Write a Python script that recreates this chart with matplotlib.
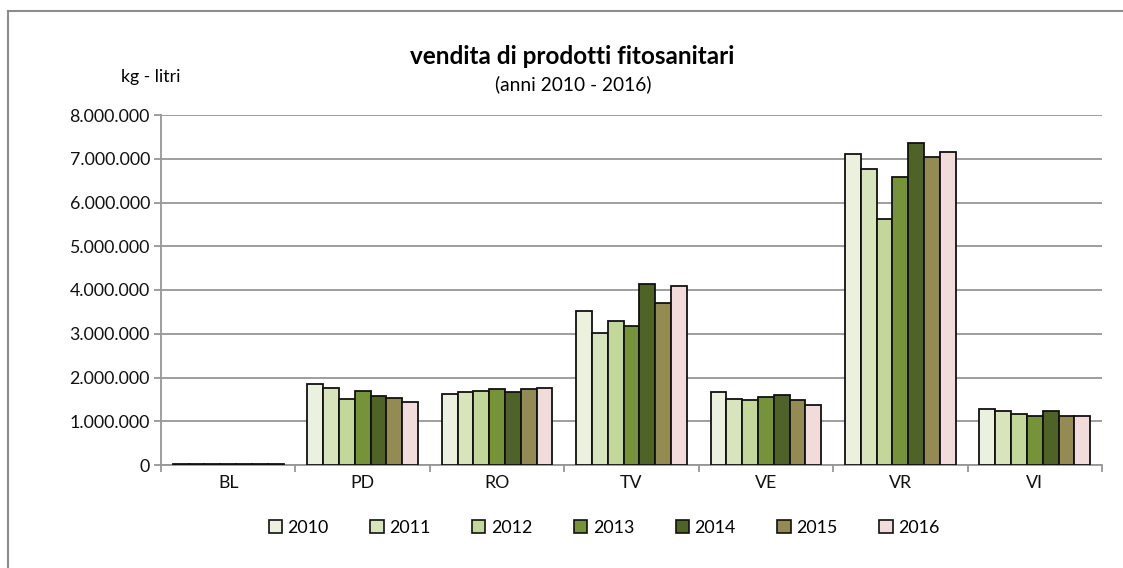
import matplotlib
matplotlib.use("Agg")
import matplotlib.pyplot as plt
import numpy as np
from matplotlib.lines import Line2D
from matplotlib.ticker import FuncFormatter, MultipleLocator

plt.rcParams['font.family'] = ['Lato', 'DejaVu Sans']

provinces = ["BL", "PD", "RO", "TV", "VE", "VR", "VI"]
years = ["2010", "2011", "2012", "2013", "2014", "2015", "2016"]
v2010 = [30000, 1850000, 1620000, 3520000, 1670000, 7120000, 1280000]
v2011 = [30000, 1770000, 1660000, 3020000, 1520000, 6770000, 1230000]
v2012 = [30000, 1500000, 1690000, 3290000, 1480000, 5620000, 1160000]
v2013 = [30000, 1690000, 1730000, 3170000, 1560000, 6580000, 1120000]
v2014 = [30000, 1580000, 1660000, 4130000, 1600000, 7350000, 1230000]
v2015 = [30000, 1540000, 1730000, 3710000, 1480000, 7040000, 1120000]
v2016 = [30000, 1430000, 1760000, 4090000, 1370000, 7150000, 1120000]
series = [v2010, v2011, v2012, v2013, v2014, v2015, v2016]
colors = ["#EBF1DE", "#D8E4BC", "#C4D79B", "#76933C", "#4F6228", "#948A54", "#F2DCDB"]

fs = 12.8

fig = plt.figure(figsize=(11.23, 5.68), dpi=100)
ax = fig.add_axes([161/1123, 1-465/568, (1102-161)/1123, 350/568])

n = len(series)
x = np.arange(len(provinces))
bw = 1/8.5
for i, (vals, c) in enumerate(zip(series, colors)):
    ax.bar(x + (i - (n-1)/2)*bw, vals, width=bw, color=c, edgecolor="#111111",
           linewidth=1.3, label=years[i], zorder=3)

ax.set_xlim(-0.5, len(provinces)-0.5)
ax.set_ylim(0, 8000000)
ax.yaxis.set_major_locator(MultipleLocator(1000000))
ax.yaxis.set_major_formatter(FuncFormatter(lambda v, p: "0" if v == 0 else f"{int(v):,}".replace(",", ".")))
ax.grid(axis='y', color="#969696", linewidth=1.3, zorder=0)
for s in ["top", "right"]:
    ax.spines[s].set_visible(False)
for s in ["left", "bottom"]:
    ax.spines[s].set_color("#969696")
    ax.spines[s].set_linewidth(1.3)
ax.set_xticks(np.arange(-0.5, len(provinces)), minor=False)
ax.set_xticklabels([])
ax.tick_params(axis='x', length=5, color="#969696", width=1.3)
for xi, lab in zip(x, provinces):
    ax.text(xi, 1-(483-115)/350, lab, transform=ax.get_xaxis_transform(), ha='center', va='center',
            fontsize=fs, color="#111111")
ax.tick_params(axis='y', length=5, color="#969696", width=1.3, labelsize=fs, labelcolor="#111111", pad=3)

fig.text(572/1123, 1-57/568, "vendita di prodotti fitosanitari", ha='center', va='center',
         fontsize=17.5, fontweight='bold')
fig.text(573/1123, 1-84/568, "(anni 2010 - 2016)", ha='center', va='center', fontsize=13.8)
fig.text(151/1123, 1-77/568, "kg - litri", ha='center', va='center', fontsize=fs)

handles = [plt.Rectangle((0, 0), 1, 1, facecolor=c, edgecolor="#111111", linewidth=1.2) for c in colors]
fig.legend(handles, years, loc='center', bbox_to_anchor=(604/1123, 1-528/568), ncol=7,
           frameon=False, fontsize=fs, handlelength=0.75, handleheight=0.75,
           handletextpad=0.3, columnspacing=2.35)

fig.add_artist(Line2D([8/1123, 8/1123], [0, 1-11/568], transform=fig.transFigure,
                      color="#8c8c8c", linewidth=1.5))
fig.add_artist(Line2D([8/1123, 1], [1-11/568, 1-11/568], transform=fig.transFigure,
                      color="#8c8c8c", linewidth=1.5))

fig.savefig("out.png", dpi=100)
